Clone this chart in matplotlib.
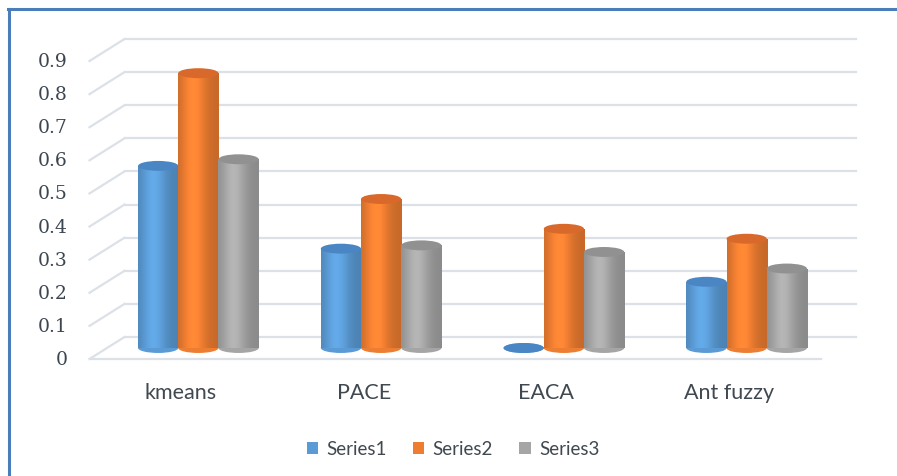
import numpy as np
import matplotlib
matplotlib.use("Agg")
import matplotlib.pyplot as plt
from matplotlib.patches import Ellipse
from matplotlib.lines import Line2D
from matplotlib.transforms import ScaledTranslation, IdentityTransform
from matplotlib.colors import to_rgb

categories = ["kmeans", "PACE", "EACA", "Ant fuzzy"]
series_names = ["Series1", "Series2", "Series3"]
series1 = [0.55, 0.30, 0.0, 0.20]
series2 = [0.83, 0.45, 0.36, 0.33]
series3 = [0.57, 0.31, 0.29, 0.24]
yticks = [0, 0.1, 0.2, 0.3, 0.4, 0.5, 0.6, 0.7, 0.8, 0.9]
ytick_labels = ["0", "0.1", "0.2", "0.3", "0.4", "0.5", "0.6", "0.7", "0.8", "0.9"]

colors = ["#5b9bd5", "#ed7d31", "#a5a5a5"]
tops = ["#4a86c4", "#d8692b", "#919191"]

W, H = 897, 477
fig = plt.figure(figsize=(W / 100, H / 100), dpi=100)
fig.patch.set_facecolor("white")

# axes = middle depth plane
left, right, y0, y9 = 107, 838, 349, 51
ax = fig.add_axes([left / W, (H - y0) / H, (right - left) / W, (y0 - y9) / H])
ax.set_xlim(-0.5, 3.5)
ax.set_ylim(0, 0.9)
ax.axis("off")

DX, DY = 17.5, 11.0  # half-depth offset in pixels
back = ax.transData + ScaledTranslation(DX / 100, DY / 100, fig.dpi_scale_trans)
front = ax.transData + ScaledTranslation(-DX / 100, -DY / 100, fig.dpi_scale_trans)
gridc = "#dce1e8"

# back wall gridlines
for v in yticks:
    ax.plot([-0.5, 3.5], [v, v], color=gridc, lw=1.6, transform=back, zorder=0, clip_on=False)
# left side-wall diagonals
for v in yticks:
    p = ax.transData.transform((-0.5, v))
    l = Line2D([p[0] - DX, p[0] + DX], [p[1] - DY, p[1] + DY], color=gridc, lw=1.6,
               transform=IdentityTransform(), zorder=0)
    fig.add_artist(l)
# floor front line
ax.plot([-0.5, 3.5], [0, 0], color=gridc, lw=1.6, transform=front, zorder=0, clip_on=False)

# y labels on front plane
lab_tr = ax.transData + ScaledTranslation(-(DX + 22) / 100, -DY / 100, fig.dpi_scale_trans)
for v, t in zip(yticks, ytick_labels):
    ax.text(-0.5, v, t, transform=lab_tr, ha="right", va="center", fontsize=13.5,
            family="DejaVu Serif", color="#3d4650")

# category labels
cat_tr = ax.transData + ScaledTranslation(-DX / 100, -44 / 100, fig.dpi_scale_trans)
for i, c in enumerate(categories):
    ax.text(i, 0, c, transform=cat_tr, ha="center", va="center", fontsize=15.5,
            family="Lato", color="#404850")

bw = 0.22
eh = 0.03
x = np.arange(len(categories))
handles = []
for k, vals in enumerate([series1, series2, series3]):
    xs = x + (k - 1) * bw
    bars = ax.bar(xs, vals, width=bw, color=colors[k], zorder=3, label=series_names[k], lw=0)
    handles.append(bars[0])
    base = np.array(to_rgb(colors[k]))
    prof = np.linspace(0, 1, 64)
    shade = 0.84 + 0.26 * np.exp(-((prof - 0.38) / 0.3) ** 2)
    grad = np.clip(base[None, :] * shade[:, None], 0, 1)[None, :, :]
    for b, v, xc in zip(bars, vals, xs):
        be = Ellipse((xc, 0), bw, eh, facecolor=colors[k], lw=0, zorder=3, clip_on=False)
        ax.add_patch(be)
        im = ax.imshow(grad, extent=(xc - bw / 2, xc + bw / 2, -eh, max(v, 0.0001)),
                       aspect="auto", zorder=3.5, interpolation="bilinear")
        im.set_clip_path(be)
        if v > 0:
            im2 = ax.imshow(grad, extent=(xc - bw / 2, xc + bw / 2, 0, v),
                            aspect="auto", zorder=3.6, interpolation="bilinear")
            im2.set_clip_path(b)
        te = Ellipse((xc, v), bw, eh, facecolor=tops[k], edgecolor="none", zorder=4, clip_on=False)
        ax.add_patch(te)

ax.set_xlim(-0.5, 3.5)
ax.set_ylim(0, 0.9)

fig.legend(handles, series_names, loc="center", bbox_to_anchor=(453 / W, 1 - 450 / H),
           ncol=3, frameon=False, handlelength=0.6, handleheight=0.6,
           handletextpad=0.45, columnspacing=1.4, prop={"family": "Lato", "size": 13.5},
           labelcolor="#404850")

# outer border (top and left)
fig.add_artist(Line2D([8 / W, 1], [1 - 10 / H, 1 - 10 / H], color="#4a7ebb", lw=2.2,
                      transform=fig.transFigure))
fig.add_artist(Line2D([9 / W, 9 / W], [0, 1 - 10 / H], color="#4a7ebb", lw=2.2,
                      transform=fig.transFigure))

fig.savefig("out.png", dpi=100, facecolor="white")
